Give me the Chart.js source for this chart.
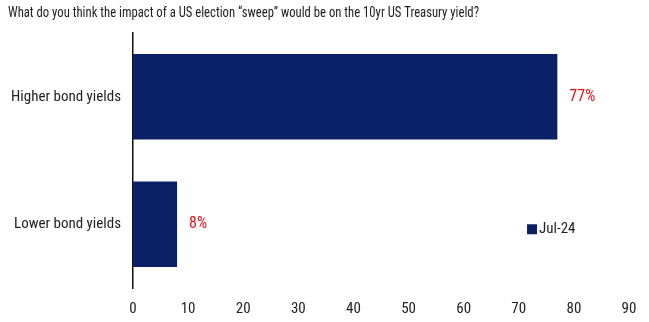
<!DOCTYPE html>
<html>
<head>
<meta charset="utf-8">
<script src="https://cdn.jsdelivr.net/npm/chart.js@4.4.1/dist/chart.umd.min.js"></script>
<style>
  html, body { margin: 0; padding: 0; background: #fff; }
  #wrap { width: 649px; height: 322px; }
</style>
</head>
<body>
<div id="wrap"><canvas id="sweepChart"></canvas></div>
<script>
// Survey: expected effect of an election sweep on 10yr UST yields
const titleText = "What do you think the impact of a US election \u201Csweep\u201D would be on the 10yr US Treasury yield?";
const categories = ["Higher bond yields", "Lower bond yields"];
const seriesName = "Jul-24";
const seriesValues = [77, 8];
const xTicks = [0, 10, 20, 30, 40, 50, 60, 70, 80, 90];

const NAVY = "#0a2167";
const FONT = "'Liberation Sans Narrow', 'Roboto Condensed', 'Liberation Sans', sans-serif";

// title drawn by hand so it can be squeezed into a narrower line
const squeezedTitle = {
  id: "squeezedTitle",
  afterDraw(chart) {
    const { ctx } = chart;
    ctx.save();
    ctx.font = "15px " + FONT;
    ctx.fillStyle = "#222";
    ctx.textBaseline = "middle";
    const w = ctx.measureText(titleText).width;
    const sx = Math.min(1, 471 / w);
    ctx.translate(8, 13);
    ctx.scale(sx, 1);
    ctx.fillText(titleText, 0, 0);
    ctx.restore();
  },
};

// percent labels drawn to the right of each bar
const valueLabels = {
  id: "valueLabels",
  afterDatasetsDraw(chart) {
    const { ctx } = chart;
    const meta = chart.getDatasetMeta(0);
    ctx.save();
    ctx.fillStyle = "#e8141b";
    ctx.font = "16px " + FONT;
    ctx.textBaseline = "middle";
    ctx.textAlign = "left";
    meta.data.forEach((bar, i) => {
      ctx.fillText(seriesValues[i] + "%", bar.x + 12, bar.y);
    });
    ctx.restore();
  },
};

// small legend sitting inside the plot, lower right
const insideLegend = {
  id: "insideLegend",
  afterDraw(chart) {
    const { ctx, scales } = chart;
    const x = scales.x.getPixelForValue(71.5);
    const y = scales.y.getPixelForValue(1);
    ctx.save();
    ctx.fillStyle = NAVY;
    ctx.fillRect(x, y, 10, 10);
    ctx.fillStyle = "#222";
    ctx.font = "15px " + FONT;
    ctx.textBaseline = "middle";
    ctx.fillText(seriesName, x + 12, y + 5);
    ctx.restore();
  },
};

new Chart(document.getElementById("sweepChart"), {
  type: "bar",
  data: {
    labels: categories,
    datasets: [{
      label: seriesName,
      data: seriesValues,
      backgroundColor: NAVY,
      categoryPercentage: 1,
      barPercentage: 0.67,
    }],
  },
  options: {
    indexAxis: "y",
    responsive: true,
    maintainAspectRatio: false,
    animation: false,
    layout: { padding: { left: 0, right: 20, top: 33, bottom: 0 } },
    plugins: {
      legend: { display: false },
      tooltip: { enabled: false },
      title: { display: false },
    },
    scales: {
      x: {
        min: 0,
        max: 90,
        afterBuildTicks(axis) {
          axis.ticks = xTicks.map((v) => ({ value: v }));
        },
        afterFit(axis) { axis.height = 34; },
        grid: { display: false, drawTicks: false },
        border: { display: false },
        ticks: {
          color: "#222",
          padding: 12,
          font: { family: FONT, size: 15 },
        },
      },
      y: {
        afterFit(axis) { axis.width = 133; },
        grid: { display: false, drawTicks: false },
        border: { display: true, color: "#111", width: 1.5 },
        ticks: {
          color: "#222",
          padding: 12,
          font: { family: FONT, size: 15 },
        },
      },
    },
  },
  plugins: [squeezedTitle, valueLabels, insideLegend],
});
</script>
</body>
</html>
